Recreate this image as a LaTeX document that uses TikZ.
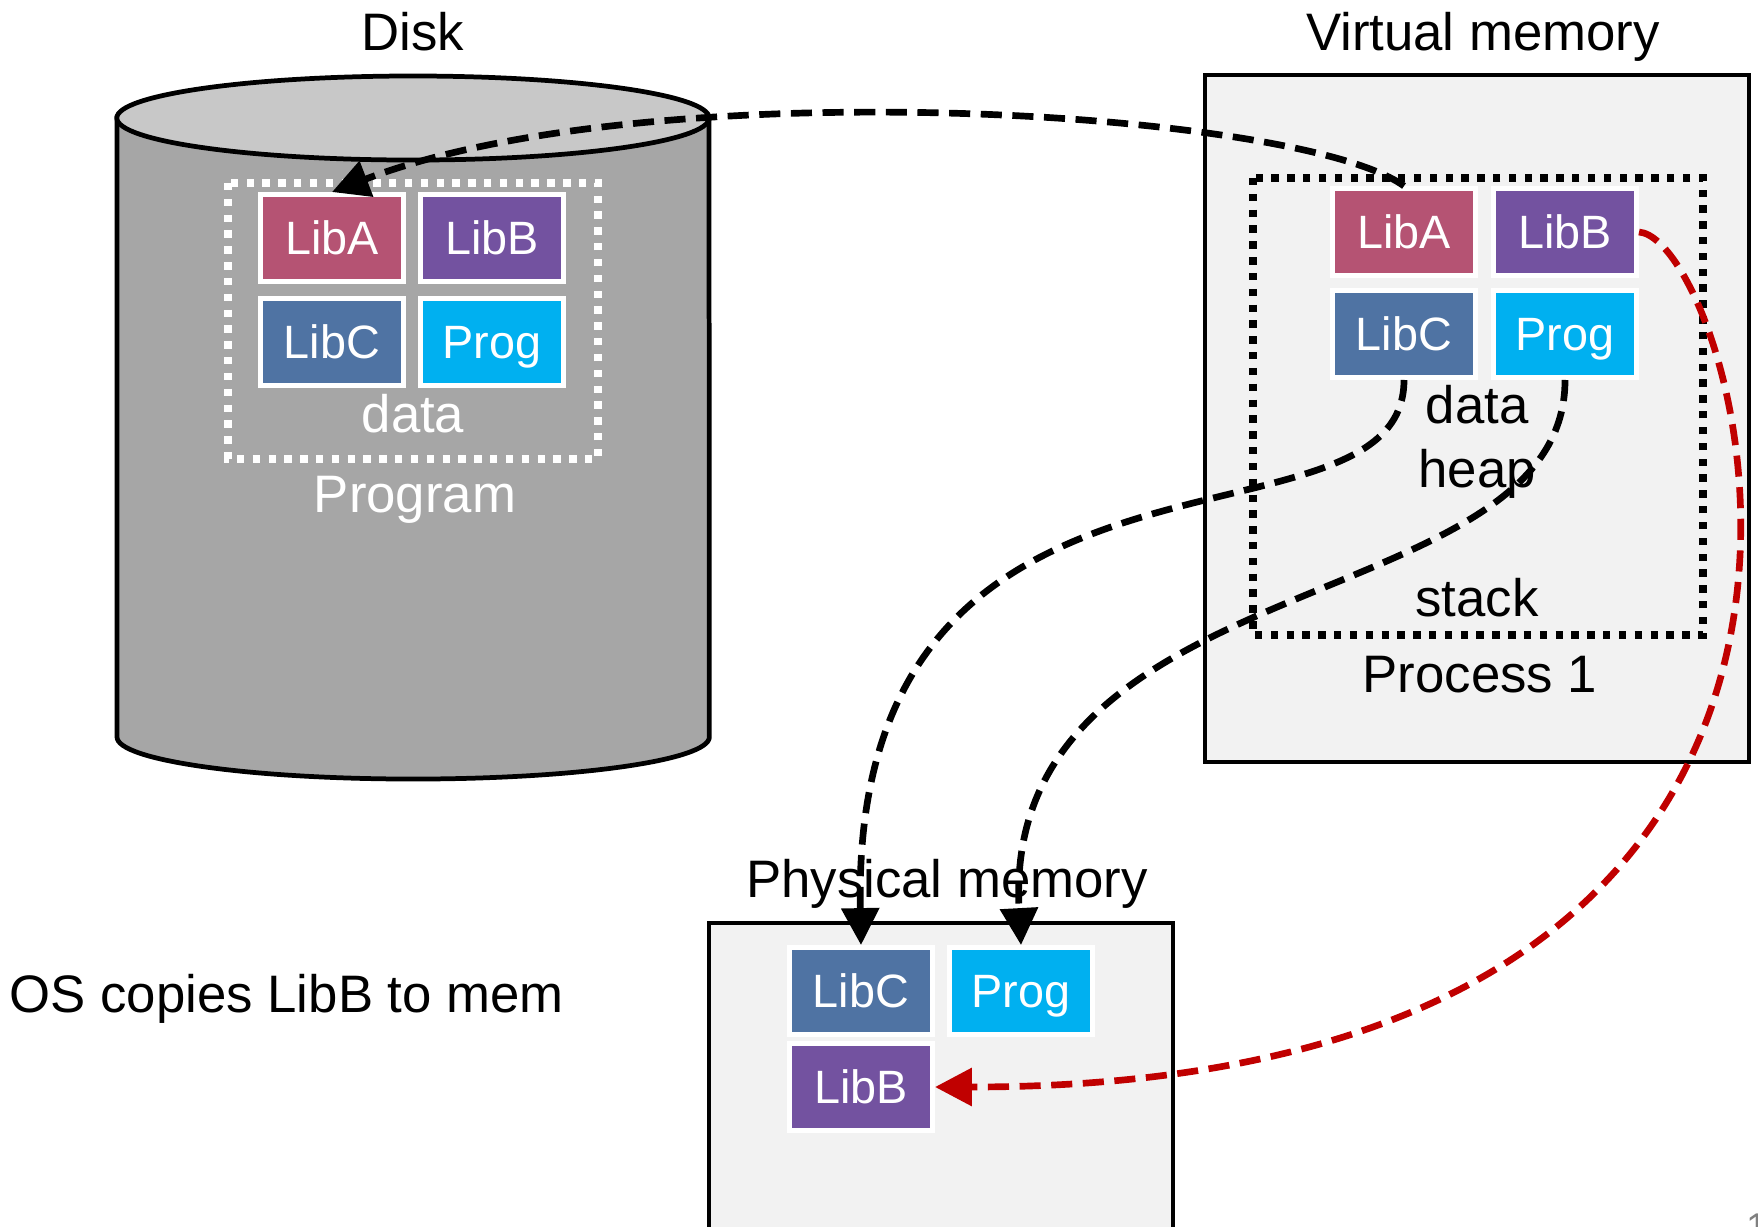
\documentclass[tikz,border=0pt]{standalone}
\usepackage{fontspec}
\setmainfont{Liberation Sans}
\usepackage{xcolor}
\usetikzlibrary{positioning,arrows.meta}
\definecolor{libAcol}{HTML}{B55373}
\definecolor{libBcol}{HTML}{7352A0}
\definecolor{libCcol}{HTML}{4F73A3}
\definecolor{progcol}{HTML}{00B0F0}
\definecolor{diskbody}{HTML}{A6A6A6}
\definecolor{disktop}{HTML}{C8C8C8}
\definecolor{memfill}{HTML}{F2F2F2}
\definecolor{copyred}{HTML}{C00000}

\begin{document}
\begin{tikzpicture}[x=0.01cm,y=-0.01cm,
    lbl/.style={font=\fontsize{15}{18}\selectfont, anchor=base, inner sep=0pt},
    lib/.style={draw=white, line width=1.4pt, minimum width=1.43cm, minimum height=0.87cm,
      inner sep=0pt, text=white, text height=9.5pt, text depth=0pt,
      font=\fontsize{13.3}{16}\selectfont},
    membox/.style={draw, fill=memfill, line width=1.35pt},
    dotbox/.style={line width=2.1pt, dash pattern=on 2.1pt off 2.4pt},
    memarrow/.style={line width=1.9pt, dash pattern=on 6pt off 3pt,
      -{Triangle[length=10.5pt,width=10.5pt]}}]
  \useasboundingbox (0,0) rectangle (1758,1226);

  \filldraw[fill=diskbody, line width=1.35pt] (117,118) -- (117,737)
    arc[start angle=180, end angle=360, x radius=2.96cm, y radius=0.42cm] -- (709,118) -- cycle;
  \filldraw[fill=disktop, line width=1.35pt] (413,118) ellipse[x radius=2.96cm, y radius=0.42cm];
  \draw[dotbox, white] (228,183) rectangle (598,459);
  \node[lib, fill=libAcol] (dA) at (332,238) {LibA};
  \node[lib, fill=libBcol, right=0.12cm of dA] (dB) {LibB};
  \node[lib, fill=libCcol, below=0.12cm of dA] (dC) {LibC};
  \node[lib, fill=progcol, below=0.12cm of dB] (dP) {Prog};
  \node[lbl] (disk) at (413,50) {Disk};
  \node[lbl, text=white] (ddata) at (413,432) {data};
  \node[lbl, text=white] (dprog) at (415,512) {Program};

  \draw[membox] (1205,75) rectangle (1749,762);
  \draw[dotbox] (1253,178) rectangle (1703,635);
  \node[lib, fill=libAcol] (vA) at (1404,232) {LibA};
  \node[lib, fill=libBcol, right=0.13cm of vA] (vB) {LibB};
  \node[lib, fill=libCcol, below=0.10cm of vA] (vC) {LibC};
  \node[lib, fill=progcol, below=0.10cm of vB] (vP) {Prog};
  \node[lbl] (virt) at (1483,50) {Virtual memory};
  \node[lbl] (vdata) at (1477,423) {data};
  \node[lbl] (vheap) at (1477,487) {heap};
  \node[lbl] (vstack) at (1477,616) {stack};
  \node[lbl] (vproc) at (1480,692) {Process 1};

  \draw[membox] (709,923) rectangle (1173,1250);
  \node[lib, fill=libCcol] (pC) at (861,991) {LibC};
  \node[lib, fill=progcol, right=0.12cm of pC] (pP) {Prog};
  \node[lib, fill=libBcol, below=0.04cm of pC] (pB) {LibB};
  \node[lbl] (phys) at (947,897) {Physical memory};

  \node[lbl, anchor=base west] (oscopy) at (9,1012) {OS copies LibB to mem};

  \draw[memarrow] (vA.north) .. controls (1300,110) and (650,70) .. (dA.north);
  \draw[memarrow] (vC.south) .. controls (1404,570) and (850,390) .. (pC.north);
  \draw[memarrow] (vP.south) .. controls (1565,620) and (1000,560) .. (pP.north);
  \draw[memarrow, copyred] (vB.east) .. controls (1740,240) and (1989,1087) .. (pB.east);

  \node[text=gray, font=\fontsize{11}{13}\selectfont, anchor=north west, inner sep=0pt] (pagenum) at (1746,1213) {1};
\end{tikzpicture}
\end{document}
